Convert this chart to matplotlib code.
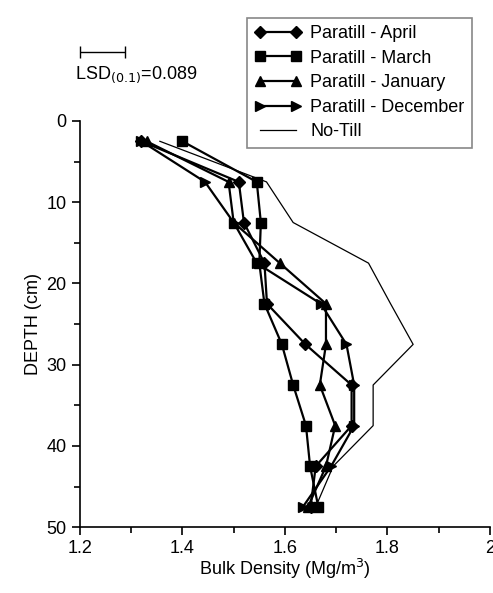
import matplotlib

matplotlib.use("Agg")

import matplotlib.pyplot as plt
from matplotlib.ticker import MultipleLocator

plt.rcParams.update(
    {
        "font.family": ["Liberation Sans", "DejaVu Sans"],
        "font.size": 13,
        "axes.linewidth": 1.2,
        "xtick.major.width": 1.2,
        "ytick.major.width": 1.2,
        "xtick.minor.width": 1.2,
        "ytick.minor.width": 1.2,
    }
)

DEPTH = [2.5, 7.5, 12.5, 17.5, 22.5, 27.5, 32.5, 37.5, 42.5, 47.5]

APRIL = [1.32, 1.51, 1.52, 1.56, 1.565, 1.64, 1.73, 1.73, 1.66, 1.65]
MARCH = [1.40, 1.545, 1.553, 1.55, 1.56, 1.594, 1.616, 1.641, 1.649, 1.665]
JANUARY = [1.33, 1.49, 1.50, 1.59, 1.68, 1.68, 1.668, 1.698, 1.68, 1.645]
DECEMBER = [1.32, 1.444, 1.50, 1.545, 1.67, 1.72, 1.735, 1.735, 1.69, 1.635]
NO_TILL = [1.356, 1.564, 1.616, 1.763, 1.806, 1.85, 1.772, 1.772, 1.694, 1.66]

LSD = 0.089

fig = plt.figure(figsize=(4.93, 5.93), dpi=100)
ax = fig.add_axes([0.162, 0.111, 0.832, 0.685])

series = [
    (APRIL, "D", 6, "Paratill - April"),
    (MARCH, "s", 6.5, "Paratill - March"),
    (JANUARY, "^", 6.5, "Paratill - January"),
    (DECEMBER, ">", 6.5, "Paratill - December"),
]
for values, marker, size, label in series:
    ax.plot(values, DEPTH, color="black", linewidth=1.6, marker=marker,
            markersize=size, label=label)
ax.plot(NO_TILL, DEPTH, color="black", linewidth=0.9, label="No-Till")

ax.set_xlim(1.2, 2.0)
ax.set_ylim(50, 0)
ax.xaxis.set_minor_locator(MultipleLocator(0.1))
ax.yaxis.set_major_locator(MultipleLocator(10))
ax.yaxis.set_minor_locator(MultipleLocator(5))
ax.set_xticks([1.2, 1.4, 1.6, 1.8, 2.0])
ax.set_xticklabels(["1.2", "1.4", "1.6", "1.8", "2"])
ax.tick_params(which="major", length=6, labelsize=13)
ax.tick_params(which="minor", length=4)
for side in ("top", "right"):
    ax.spines[side].set_visible(False)
ax.set_xlabel("Bulk Density (Mg/m$^3$)", fontsize=13, labelpad=0)
ax.set_ylabel("DEPTH (cm)", fontsize=13, labelpad=3)

# LSD bar above the plot
ax.errorbar([1.2 + LSD / 2], [-8.5], xerr=[LSD / 2], color="black",
            linewidth=1.0, capsize=4, capthick=1.0, clip_on=False)
ax.text(1.19, -4.4, "LSD$_{(0.1)}$=0.089", fontsize=13, ha="left",
        va="bottom", clip_on=False)

leg = fig.legend(loc="upper right", bbox_to_anchor=(0.975, 0.985),
                 fancybox=False, edgecolor="#888888", framealpha=1,
                 numpoints=2, handlelength=2.6, fontsize=13,
                 labelspacing=0.42, borderpad=0.4, handletextpad=0.5)
leg.get_frame().set_linewidth(1.2)

fig.savefig("out.png", dpi=100, facecolor="white")
